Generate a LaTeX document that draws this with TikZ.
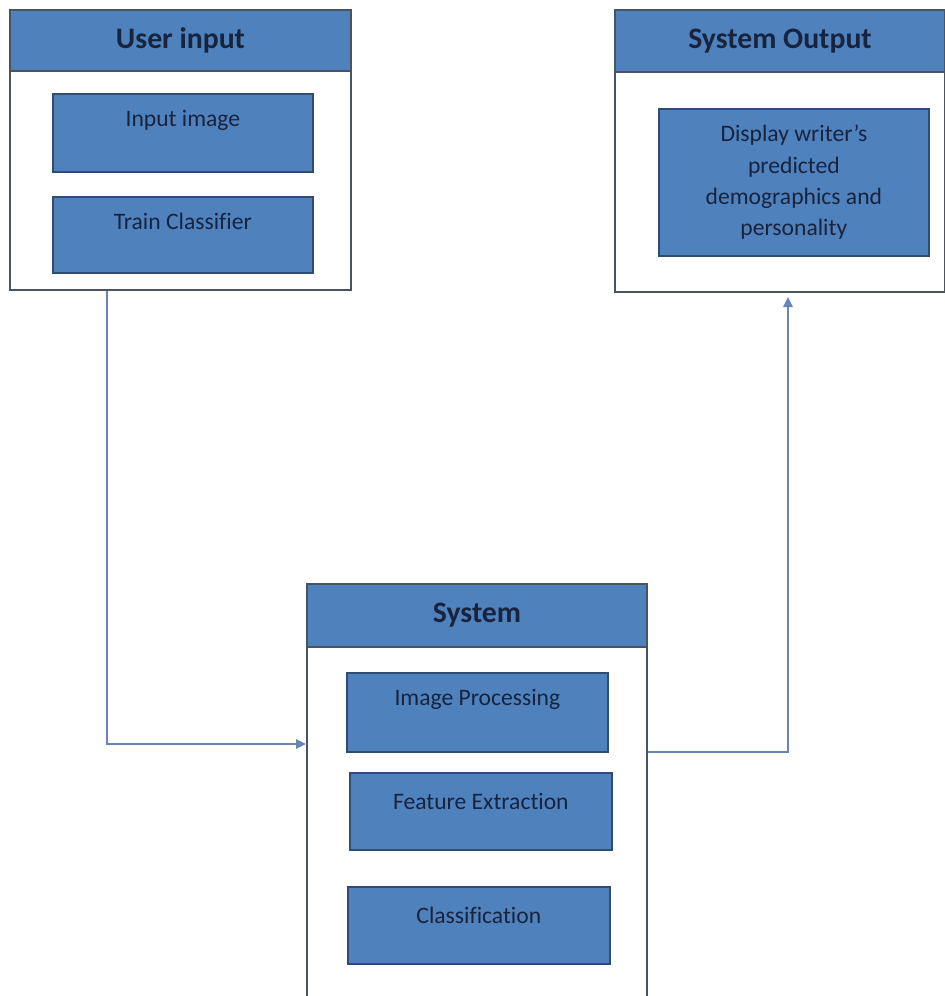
\documentclass[tikz,border=0pt]{standalone}
\usepackage{fontspec}
\setmainfont{Carlito}[Ligatures=NoCommon]
\usetikzlibrary{calc,arrows.meta}

\definecolor{boxblue}{HTML}{4F81BD}
\definecolor{boxedge}{HTML}{2F4D73}
\definecolor{frameedge}{HTML}{4A5360}
\definecolor{inktext}{HTML}{18243D}
\definecolor{linkblue}{HTML}{6A84B6}

\tikzset{
  % outer white panel
  panel/.style={draw=frameedge, line width=1.5pt, fill=white, anchor=north west,
    inner sep=0pt, minimum width={#1}},
  % blue title bar of a panel
  titlebar/.style={draw=frameedge, line width=1.5pt, fill=boxblue, anchor=north west,
    inner sep=0pt, text=inktext, font=\bfseries\fontsize{22.3}{26}\selectfont},
  % blue step box inside a panel
  stepbox/.style={draw=boxedge, line width=1.3pt, fill=boxblue, anchor=north west,
    inner sep=0pt},
  steptext/.style={text=inktext, font=\fontsize{17.7}{23.5}\selectfont, inner sep=0pt,
    align=center},
  link/.style={draw=linkblue, line width=1.5pt,
    -{Triangle[length=7.5pt,width=7pt]}},
}

\begin{document}
\begin{tikzpicture}[x=0.75pt,y=-0.75pt]
\useasboundingbox (0,0) rectangle (945,996);
\clip (0,0) rectangle (945,996);

% ---- User input panel
\node[panel={341*0.75pt}, minimum height={280*0.75pt}] (uin) at (9,9) {};
\node[titlebar, minimum width={341*0.75pt}, minimum height={61*0.75pt}] (uinT) at (9,9) {User input};
\node[stepbox, minimum width={260*0.75pt}, minimum height={78*0.75pt}] (inimg) at (52,93) {};
\node[steptext] (inimgT) at ($(inimg.north)+(0,27)$) {Input image};
\node[stepbox, minimum width={260*0.75pt}, minimum height={76*0.75pt}] (train) at (52,196) {};
\node[steptext] (trainT) at ($(train.north)+(0,25)$) {Train Classifier};

% ---- System Output panel
\node[panel={330*0.75pt}, minimum height={282*0.75pt}] (sout) at (614,9) {};
\node[titlebar, minimum width={330*0.75pt}, minimum height={62*0.75pt}] (soutT) at (614,9) {System Output};
\node[stepbox, minimum width={270*0.75pt}, minimum height={147*0.75pt}] (disp) at (658,108) {};
\node[steptext] (dispT) at (disp.center) {Display writer's\\predicted\\demographics and\\personality};

% ---- System panel
\node[panel={340*0.75pt}, minimum height={430*0.75pt}] (sys) at (306,583) {};
\node[titlebar, minimum width={340*0.75pt}, minimum height={63*0.75pt}] (sysT) at (306,583) {System};
\node[stepbox, minimum width={261*0.75pt}, minimum height={79*0.75pt}] (imgp) at (346,672) {};
\node[steptext] (imgpT) at ($(imgp.north)+(0,27)$) {Image Processing};
\node[stepbox, minimum width={262*0.75pt}, minimum height={77*0.75pt}] (feat) at (349,772) {};
\node[steptext] (featT) at ($(feat.north)+(0,29)$) {Feature Extraction};
\node[stepbox, minimum width={262*0.75pt}, minimum height={77*0.75pt}] (cls) at (347,886) {};
\node[steptext] (clsT) at ($(cls.north)+(0,29)$) {Classification};

% ---- connectors
\draw[link] ($(uin.south west)+(98,0)$) |- ($(sys.north west)+(0,161)$);
\draw[link] ($(sys.north east)+(0,169)$) -| ($(sout.south west)+(174,4)$);
\end{tikzpicture}
\end{document}
